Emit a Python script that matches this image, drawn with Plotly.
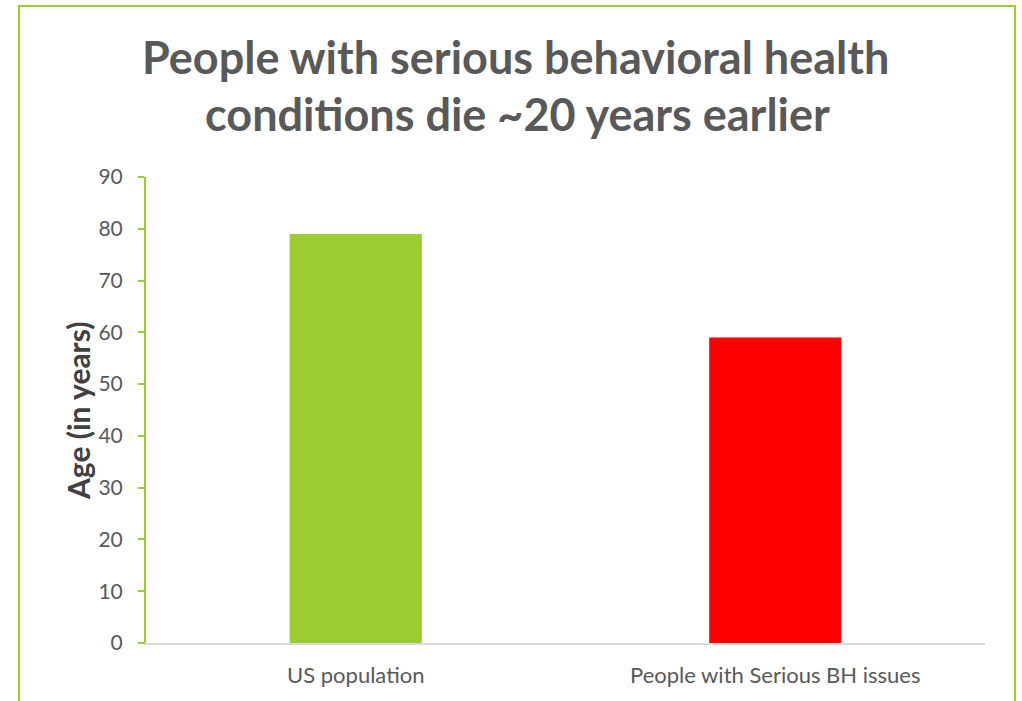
import plotly.graph_objects as go

categories = ["US population", "People with Serious BH issues"]
ages = [79, 59]
bar_colors = ["#9ACD32", "#FF0000"]
title_lines = ["People with serious behavioral health", "conditions die ~20 years earlier"]
y_title = "Age (in years)"

W, H = 1022, 701
L, R, T, B = 146, 37, 177, 58
pw, ph = W - L - R, H - T - B

def px_x(x):
    return (x - L) / pw

def px_y(y):
    return (H - B - y) / ph

fig = go.Figure(go.Bar(x=categories, y=ages, marker_color=bar_colors,
                       marker_line_width=0, width=0.315))

title_font = dict(family="Lato", size=45, color="#595959", weight="bold")
annotations = [
    dict(text=title_lines[0], xref="paper", yref="paper", x=px_x(515), y=px_y(57),
         xanchor="center", yanchor="middle", showarrow=False, font=title_font),
    dict(text=title_lines[1], xref="paper", yref="paper", x=px_x(517), y=px_y(114),
         xanchor="center", yanchor="middle", showarrow=False, font=title_font),
    dict(text=y_title, textangle=-90, xref="paper", yref="paper",
         x=px_x(78), y=px_y(411), xanchor="center", yanchor="middle",
         showarrow=False,
         font=dict(family="Lato", size=30, color="#404040", weight="bold")),
]

fig.update_layout(
    width=W, height=H,
    margin=dict(l=L, r=R, t=T, b=B),
    paper_bgcolor="white", plot_bgcolor="white",
    font=dict(family="Lato", color="#595959"),
    showlegend=False,
    xaxis=dict(showline=True, linecolor="#D9D9D9", linewidth=2, ticks="",
               showgrid=False, tickfont=dict(size=22, color="#595959"),
               ticklabelstandoff=12),
    yaxis=dict(range=[0, 90], dtick=10, showgrid=False, zeroline=False,
               showline=True, linecolor="#9ACD32", linewidth=2,
               ticks="outside", tickcolor="#9ACD32", ticklen=6, tickwidth=2,
               tickfont=dict(size=21, color="#595959"), ticklabelstandoff=11),
    annotations=annotations,
    shapes=[dict(type="rect", xref="paper", yref="paper",
                 x0=px_x(19), x1=px_x(1015), y0=px_y(6), y1=px_y(720),
                 line=dict(color="#9ACD32", width=2), fillcolor="rgba(0,0,0,0)",
                 layer="below")],
)

fig.write_html("out.html")
